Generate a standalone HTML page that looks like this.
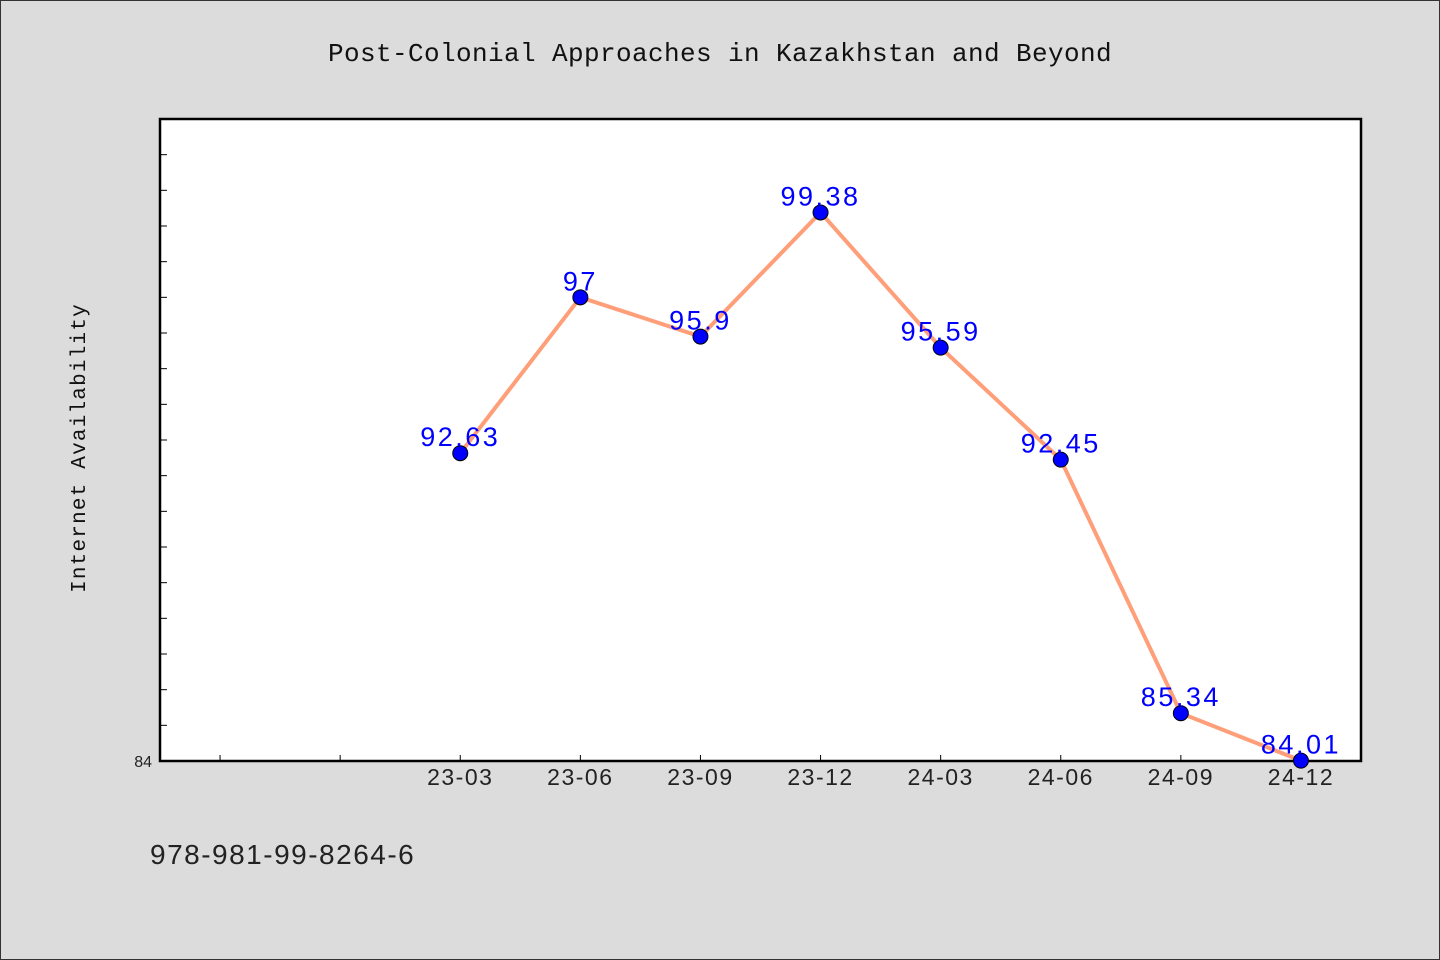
<!DOCTYPE html>
<html><head><meta charset="utf-8"><style>
html,body{margin:0;padding:0;background:#dcdcdc;}
svg{display:block;font-family:"Liberation Sans","Noto Sans CJK SC",sans-serif;}
</style></head><body>
<svg id="chart" width="1440" height="960">
<rect x="0.5" y="0.5" width="1439" height="959" fill="#dcdcdc" stroke="#333"/>
<text x="720" y="61" text-anchor="middle" font-family="Liberation Mono, monospace" font-size="26" letter-spacing="0.4" fill="#111">Post-Colonial Approaches in Kazakhstan and Beyond</text>
<rect x="160" y="119" width="1201" height="642" fill="#fff" stroke="#000" stroke-width="2.5"/>
<text transform="translate(85,448) rotate(-90)" text-anchor="middle" font-family="Liberation Mono, monospace" font-size="21" letter-spacing="1.2" fill="#111">Internet Availability</text>
<text x="150" y="864" font-size="28" letter-spacing="1.5" fill="#222">978-981-99-8264-6</text>
<g id="axes"></g><g id="series"></g>
</svg>
<script>
const categories=["","","23-03","23-06","23-09","23-12","24-03","24-06","24-09","24-12"];
const values=[null,null,92.63,97,95.9,99.38,95.59,92.45,85.34,84.01];
const labels=["","","92.63","97","95.9","99.38","95.59","92.45","85.34","84.01"];
const yMin=84,yMax=102;
const X0=160,X1=1361,Y0=761,Y1=119;
const NS="http://www.w3.org/2000/svg";
const step=(X1-X0)/categories.length;
function xs(i){return X0+step*(i+0.5);}
function ys(v){return Y0-(v-yMin)/(yMax-yMin)*(Y0-Y1);}
const axes=document.getElementById('axes'),series=document.getElementById('series');
function mk(t,a,p){const e=document.createElementNS(NS,t);for(const k in a)e.setAttribute(k,a[k]);p.appendChild(e);return e;}
for(let v=yMin+1;v<yMax;v++){
  const t=mk('line',{x1:X0,x2:X0+7,y1:ys(v),y2:ys(v),stroke:'#000','stroke-width':1},axes);
  
  
}
const yl=mk('text',{x:X0-8,y:Y0+6,'text-anchor':'end','font-size':16,fill:'#222'},axes);
yl.textContent=String(yMin);


categories.forEach((c,i)=>{
  const t=mk('line',{x1:xs(i),x2:xs(i),y1:Y0,y2:Y0-6,stroke:'#000','stroke-width':1},axes);
  
  
  if(c){const l=mk('text',{x:xs(i),y:Y0+24,'text-anchor':'middle','font-size':23,'letter-spacing':1.5,fill:'#222'},axes);
  l.textContent=c;
  
  }
});
let pts=[];values.forEach((v,i)=>{if(v!=null)pts.push(xs(i)+','+ys(v));});
const pl=mk('polyline',{points:pts.join(' '),fill:'none',stroke:'#ff9f7a','stroke-width':4},series);


values.forEach((v,i)=>{if(v==null)return;
  const c=mk('circle',{cx:xs(i),cy:ys(v),r:7.5,fill:'#0000ff',stroke:'#000','stroke-width':1},series);
  
  
  const t=mk('text',{x:xs(i),y:ys(v)-7,'text-anchor':'middle','font-size':27,'letter-spacing':2.5,fill:'#0000ff'},series);
  t.textContent=labels[i];
  
  
});
</script>
</body></html>
